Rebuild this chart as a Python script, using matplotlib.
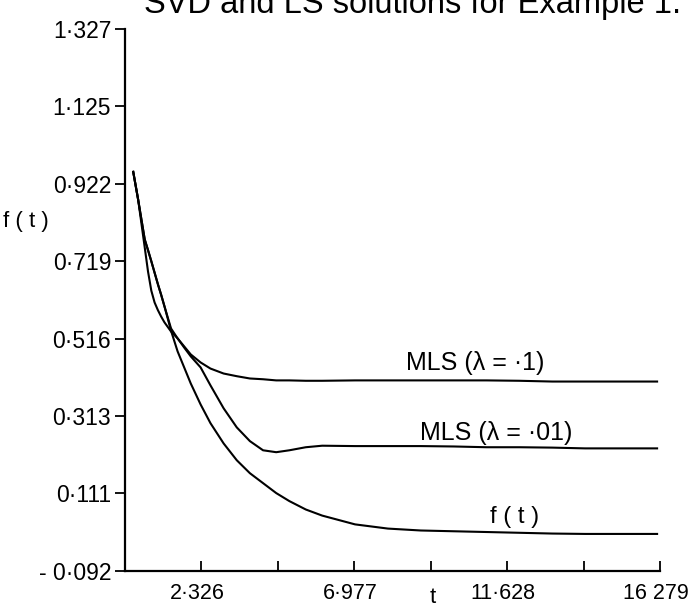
import matplotlib
matplotlib.use("Agg")
import matplotlib.pyplot as plt
from matplotlib.transforms import ScaledTranslation

plt.rcParams['font.family'] = ['Liberation Sans', 'DejaVu Sans']

# time grid shared by the three curves
t = [0.25, 0.4, 0.6, 0.7, 0.8, 0.9, 1.0, 1.1, 1.2, 1.4, 1.6, 1.8, 2.0,
     2.3, 2.6, 3.0, 3.4, 3.8, 4.2, 4.6, 5.0, 5.5, 6.0,
     7.0, 8.0, 9.0, 10.0, 11.0, 12.0, 13.0, 14.0, 15.0, 16.19]

f_true = [0.953, 0.880, 0.776, 0.748, 0.719, 0.689, 0.659, 0.631, 0.601, 0.537,
          0.483, 0.441, 0.399, 0.344, 0.295, 0.242, 0.198, 0.164, 0.138, 0.112,
          0.091, 0.069, 0.053, 0.030, 0.019, 0.014, 0.012, 0.010, 0.008, 0.006,
          0.005, 0.005, 0.005]

mls_1 = [0.953, 0.880, 0.755, 0.692, 0.642, 0.611, 0.591, 0.574, 0.559, 0.535,
         0.517, 0.496, 0.475, 0.454, 0.438, 0.425, 0.418, 0.412, 0.410, 0.407,
         0.407, 0.406, 0.406, 0.407, 0.407, 0.407, 0.407, 0.407, 0.406, 0.404,
         0.404, 0.404, 0.404]

mls_01 = [0.953, 0.880, 0.776, 0.748, 0.719, 0.689, 0.659, 0.631, 0.601, 0.543,
          0.517, 0.493, 0.470, 0.441, 0.394, 0.334, 0.284, 0.248, 0.224, 0.219,
          0.224, 0.232, 0.236, 0.235, 0.235, 0.235, 0.234, 0.232, 0.232, 0.231,
          0.229, 0.229, 0.229]

yticks = [-0.092, 0.111, 0.313, 0.516, 0.719, 0.922, 1.125, 1.327]
ytick_labels = ["- 0·092", "0·111", "0·313", "0·516", "0·719", "0·922", "1·125", "1·327"]
xticks = [2.326, 4.651, 6.977, 9.302, 11.628, 13.953, 16.279]
xtick_labels = ["2·326", "", "6·977", "", "11·628", "", "16 279"]

fig = plt.figure(figsize=(6.93, 6.11), dpi=100)
ax = fig.add_axes([0.1804, 0.0655, 0.772, 0.887])

for y in (f_true, mls_1, mls_01):
    ax.plot(t, y, color="black", lw=1.5)

ax.set_xlim(0, 16.279)
ax.set_ylim(-0.092, 1.327)

ax.set_yticks(yticks)
ax.set_yticklabels(ytick_labels, fontsize=16.5)
ax.set_xticks(xticks)
ax.set_xticklabels(xtick_labels, fontsize=15.5)

ax.tick_params(axis="y", direction="out", length=7, width=1.3, pad=3)
ax.tick_params(axis="x", direction="in", length=7, width=1.3, pad=9)

# the scan has the x labels sitting a little left of their ticks
shift = ScaledTranslation(-4 / 100, 0, fig.dpi_scale_trans)
for lab in ax.get_xticklabels():
    lab.set_transform(lab.get_transform() + shift)

for side in ("top", "right"):
    ax.spines[side].set_visible(False)
for side in ("left", "bottom"):
    ax.spines[side].set_linewidth(1.6)

# curve labels
ax.text(10.65, 0.453, "MLS (λ = ·1)", fontsize=18, ha="center", va="center")
ax.text(11.29, 0.269, "MLS (λ = ·01)", fontsize=18, ha="center", va="center")
ax.text(11.84, 0.049, "f ( t )", fontsize=17, ha="center", va="center")

# axis labels
fig.text(0.0375, 0.638, "f ( t )", fontsize=16, ha="center", va="center")
fig.text(0.625, 0.022, "t", fontsize=16, ha="center", va="center")

# title, cut off at the top edge like in the scan
fig.text(0.595, 0.979, "SVD and LS solutions for Example 1.", fontsize=23.5,
         ha="center", va="baseline")

fig.savefig("out.png", dpi=100)
